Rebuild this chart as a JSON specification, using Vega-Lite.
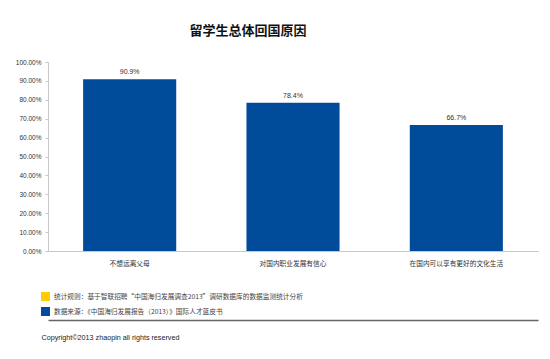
{
  "$schema": "https://vega.github.io/schema/vega-lite/v6.json",
  "width": 490,
  "height": 189,
  "autosize": "none",
  "padding": {"left": 48, "top": 62, "right": 12, "bottom": 108},
  "background": "white",
  "title": {
    "text": "留学生总体回国原因",
    "font": "Noto Sans CJK SC",
    "fontSize": 13,
    "fontWeight": "bold",
    "color": "#111111",
    "anchor": "middle",
    "dx": -45,
    "offset": 21
  },
  "config": {
    "view": {"stroke": null},
    "font": "Noto Sans CJK SC"
  },
  "data": {
    "values": [
      {"reason": "不想远离父母", "pct": 0.909, "note": "数据来源：《中国海归发展报告（2013）》国际人才蓝皮书"},
      {"reason": "对国内职业发展有信心", "pct": 0.784, "note": "数据来源：《中国海归发展报告（2013）》国际人才蓝皮书"},
      {"reason": "在国内可以享有更好的文化生活", "pct": 0.667, "note": "数据来源：《中国海归发展报告（2013）》国际人才蓝皮书"}
    ]
  },
  "encoding": {
    "x": {
      "field": "reason",
      "type": "nominal",
      "sort": null,
      "scale": {"paddingInner": 0.43, "paddingOuter": 0.215}
    },
    "y": {
      "field": "pct",
      "type": "quantitative",
      "scale": {"domain": [0, 1]},
      "axis": {
        "title": null,
        "format": ".2%",
        "values": [0, 0.1, 0.2, 0.3, 0.4, 0.5, 0.6, 0.7, 0.8, 0.9, 1],
        "grid": false,
        "domainColor": "#c8c8c8",
        "tickColor": "#c8c8c8",
        "tickSize": 3,
        "labelFont": "Liberation Sans",
        "labelFontSize": 6.5,
        "labelColor": "#333333",
        "labelPadding": 4
      }
    }
  },
  "layer": [
    {
      "mark": {"type": "bar"},
      "encoding": {
        "x": {
          "field": "reason",
          "type": "nominal",
          "sort": null,
          "axis": {
            "title": null,
            "labelAngle": 0,
            "ticks": false,
            "domainColor": "#c8c8c8",
            "labelFontSize": 6.7,
            "labelColor": "#333333",
            "labelPadding": 9,
            "labelLimit": 200
          }
        },
        "color": {
          "field": "note",
          "type": "nominal",
          "scale": {
            "domain": [
              "统计规则：基于智联招聘“中国海归发展调查2013”调研数据库的数据监测统计分析",
              "数据来源：《中国海归发展报告（2013）》国际人才蓝皮书"
            ],
            "range": ["#FFCC00", "#004C9B"]
          },
          "legend": {
            "orient": "none",
            "legendX": -7,
            "legendY": 230,
            "title": null,
            "direction": "vertical",
            "symbolType": "square",
            "symbolSize": 81,
            "symbolStrokeWidth": 0,
            "symbolOpacity": 1,
            "labelFontSize": 6.7,
            "labelColor": "#444444",
            "labelLimit": 400,
            "labelOffset": 4,
            "rowPadding": 6
          }
        }
      }
    },
    {
      "mark": {"type": "text", "dy": -7, "fontSize": 7, "color": "#333333", "font": "Liberation Sans"},
      "encoding": {
        "x": {
          "field": "reason",
          "type": "nominal",
          "sort": null,
          "axis": {
            "orient": "bottom",
            "offset": 69,
            "labels": false,
            "ticks": false,
            "domainColor": "#666666",
            "domainWidth": 1.5,
            "title": "Copyright©2013 zhaopin all rights reserved",
            "titleAnchor": "start",
            "titleAlign": "left",
            "titleX": -7,
            "titleY": 13,
            "titleFont": "Liberation Sans",
            "titleFontSize": 7.2,
            "titleFontWeight": "normal",
            "titleColor": "#222222"
          }
        },
        "text": {"field": "pct", "type": "quantitative", "format": ".1%"}
      }
    }
  ],
  "resolve": {"axis": {"x": "independent"}}
}
